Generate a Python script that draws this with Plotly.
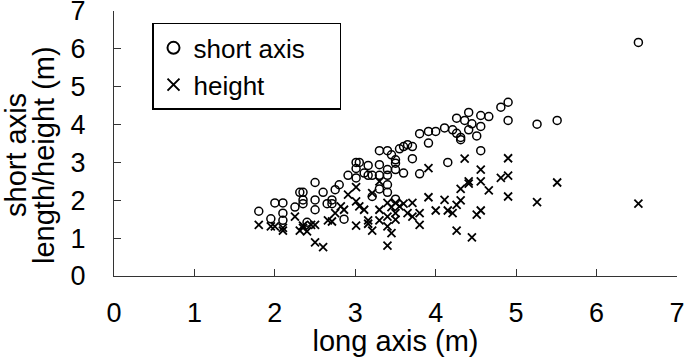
import plotly.graph_objects as go

short_x = [1.80, 1.95, 2.00, 2.10, 2.10, 2.10, 2.25, 2.31, 2.35, 2.35, 2.35, 2.40, 2.50, 2.50, 2.50,
           2.60, 2.65, 2.71, 2.71, 2.75, 2.80, 2.86, 2.91, 3.01, 3.05, 3.01, 3.01, 3.11, 3.16, 3.16,
           3.21, 3.21, 3.30, 3.30, 3.30, 3.30, 3.40, 3.40, 3.40, 3.40, 3.40, 3.45, 3.50, 3.50, 3.50,
           3.50, 3.55, 3.60, 3.65, 3.71, 3.71, 3.60, 3.80, 3.80, 3.91, 3.91, 4.00, 4.11, 4.15, 4.21,
           4.26, 4.26, 4.31, 4.31, 4.36, 4.41, 4.41, 4.45, 4.51, 4.56, 4.56, 4.56, 4.66, 4.81, 4.90,
           4.90, 5.26, 5.51, 6.52]
short_y = [1.71, 1.51, 1.93, 1.93, 1.66, 1.47, 1.82, 2.21, 2.21, 2.01, 1.91, 1.42, 2.47, 2.01, 1.75,
           2.21, 1.91, 2.01, 1.91, 2.28, 2.41, 1.50, 2.66, 3.00, 3.00, 2.84, 2.59, 2.72, 2.92, 2.66,
           2.66, 2.10, 3.31, 2.94, 2.66, 2.30, 3.31, 2.81, 2.66, 2.41, 2.21, 3.20, 3.07, 2.98, 2.81,
           2.03, 3.36, 3.42, 3.47, 3.42, 3.10, 2.72, 3.76, 2.70, 3.82, 3.51, 3.82, 3.91, 3.00, 3.86,
           4.17, 3.77, 3.66, 3.60, 4.11, 4.32, 3.86, 4.02, 3.70, 4.24, 3.95, 3.31, 4.21, 4.46, 4.59,
           4.11, 4.01, 4.11, 6.17]

height_x = [1.80, 1.95, 2.00, 2.10, 2.10, 2.25, 2.31, 2.35, 2.35, 2.40, 2.45, 2.50, 2.50, 2.60, 2.66,
            2.71, 2.75, 2.82, 2.86, 2.91, 3.01, 3.01, 3.01, 3.05, 3.11, 3.16, 3.16, 3.21, 3.21, 3.30,
            3.30, 3.30, 3.40, 3.40, 3.40, 3.40, 3.45, 3.45, 3.50, 3.50, 3.50, 3.55, 3.60, 3.65, 3.71,
            3.71, 3.80, 3.80, 3.91, 3.91, 4.00, 4.11, 4.15, 4.21, 4.26, 4.26, 4.31, 4.31, 4.36, 4.41,
            4.41, 4.45, 4.51, 4.56, 4.56, 4.56, 4.66, 4.81, 4.90, 4.90, 4.90, 5.26, 5.51, 6.52]
height_y = [1.35, 1.31, 1.31, 1.20, 1.27, 1.57, 1.20, 1.33, 1.27, 1.18, 1.35, 0.89, 1.35, 0.76, 1.47,
            1.44, 1.66, 1.84, 1.75, 2.15, 2.35, 1.97, 1.33, 1.84, 1.75, 1.47, 1.38, 1.20, 2.19, 2.50,
            1.75, 1.47, 0.80, 1.31, 1.57, 1.93, 1.13, 1.82, 1.49, 1.66, 1.93, 1.84, 1.91, 1.66, 1.93,
            1.57, 1.66, 1.35, 2.85, 2.08, 1.73, 2.01, 1.73, 1.66, 1.20, 1.88, 2.30, 2.00, 3.10, 2.50,
            2.44, 1.02, 1.62, 1.73, 2.81, 2.50, 2.26, 2.59, 3.11, 2.65, 2.10, 1.95, 2.47, 1.91]

x_ticks = [0, 1, 2, 3, 4, 5, 6, 7]
y_ticks = [0, 1, 2, 3, 4, 5, 6, 7]
x_title = "long axis (m)"
y_title_lines = ["short axis", "length/height (m)"]

FONT = "Liberation Sans, Arial, sans-serif"
NB = "\u00a0"

fig = go.Figure()
fig.add_trace(go.Scatter(
    x=short_x, y=short_y, mode="markers", name="short axis" + NB * 4,
    marker=dict(symbol="circle-open", size=8, color="black", line=dict(width=1.5, color="black")),
))
fig.add_trace(go.Scatter(
    x=height_x, y=height_y, mode="markers", name="height",
    marker=dict(symbol="x-thin-open", size=8, color="black", line=dict(width=1.8, color="black")),
))

fig.update_layout(
    width=685, height=357,
    margin=dict(l=114, r=8, t=11, b=81),
    paper_bgcolor="white", plot_bgcolor="white",
    font=dict(family=FONT, color="black", size=27),
    showlegend=True,
    legend=dict(
        x=0.0675, y=0.955, xanchor="left", yanchor="top",
        bordercolor="black", borderwidth=1.5, bgcolor="white",
        font=dict(size=26, family=FONT),
        tracegroupgap=0, itemsizing="constant", itemwidth=30,
    ),
    xaxis=dict(
        range=[0, 7], tickvals=x_ticks, ticktext=[str(v) for v in x_ticks],
        showgrid=False, zeroline=False, showline=True, linecolor="#333", linewidth=1.2,
        ticks="inside", ticklen=7, tickcolor="#333", tickwidth=1,
        tickfont=dict(size=27), ticklabelstandoff=12, automargin=False,
        ticklabeloverflow="allow",
        title=dict(text=x_title, font=dict(size=29), standoff=6),
    ),
    yaxis=dict(
        range=[0, 7], tickvals=y_ticks, ticktext=[str(v) for v in y_ticks],
        showgrid=False, zeroline=False, showline=True, linecolor="#333", linewidth=1.2,
        ticks="inside", ticklen=7, tickcolor="#333", tickwidth=1,
        tickfont=dict(size=27), ticklabelstandoff=22, automargin=False,
        ticklabeloverflow="allow",
    ),
)

for txt, xpix in zip(y_title_lines, [16, 44]):
    fig.add_annotation(
        text=txt, textangle=-90, showarrow=False,
        xref="paper", yref="paper",
        x=(xpix - 114) / 563, y=(276 - 155) / 265,
        xanchor="center", yanchor="middle",
        font=dict(size=29, family=FONT, color="black"),
    )

fig.write_html("out.html", config={"displayModeBar": False},
               post_script="document.body.style.margin='0';")
